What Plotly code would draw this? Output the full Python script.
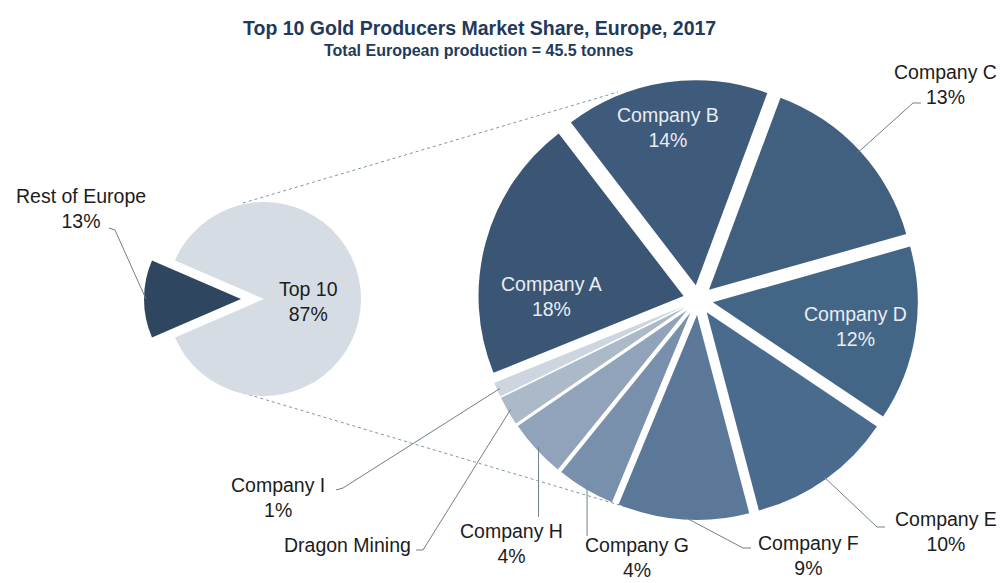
import math
import plotly.graph_objects as go

W, H = 1002, 583

# Split of total European production: the "Top 10" slice is broken out on the right
split_labels = ["Rest of Europe", "Top 10"]
split_shares = [13, 87]

# Breakdown of the top-10 producers (% of total European production)
companies = ["Company A", "Company B", "Company C", "Company D", "Company E",
             "Company F", "Company G", "Company H", "Dragon Mining", "Company I"]
company_shares = [18, 14, 13, 12, 10, 9, 4, 4, 2, 1]
# Dragon Mining is drawn without a percentage in its label
show_pct = [True, True, True, True, True, True, True, True, False, True]

split_colors = ["#2f4661", "#d6dce4"]
company_colors = ["#3b5574", "#3e5b7b", "#41607f", "#446686", "#4a6b8e",
                  "#5b7898", "#7890ab", "#90a3ba", "#abb9c9", "#cdd5de"]

TEXT_DARK = "#1c1c1c"
TEXT_LIGHT = "#e8edf3"
TITLE_COLOR = "#1f3a5b"
LEADER_COLOR = "#6f8088"
CONNECTOR_COLOR = "#7c98a3"
FONT = "Arial, Liberation Sans, sans-serif"

# Pie geometry in pixels (centre, half of the domain box, pulls, start angle)
left_pie = dict(cx=264, cy=299, half=120,
                pull=[0.237, 0.0],
                rotation=270 - 180 * split_shares[0] / sum(split_shares))
right_pie = dict(cx=698, cy=300, half=220,
                 pull=[0.073] * len(company_shares),
                 rotation=248)


def px(x, y):
    return x / W, 1 - y / H


def domain(p):
    return dict(x=[(p["cx"] - p["half"]) / W, (p["cx"] + p["half"]) / W],
                y=[1 - (p["cy"] + p["half"]) / H, 1 - (p["cy"] - p["half"]) / H])


def slice_point(p, values, i, frac=1.0):
    """Pixel point along the mid-angle of slice i, frac of the radius out."""
    total = sum(values)
    cum = sum(values[:i])
    mid = p["rotation"] + 360 * (cum + values[i] / 2) / total
    r = p["half"] / (1 + max(p["pull"]))
    d = p["pull"][i] * r + frac * r
    a = math.radians(mid)
    return p["cx"] + d * math.sin(a), p["cy"] - d * math.cos(a)


fig = go.Figure()

fig.add_trace(go.Pie(
    labels=split_labels, values=split_shares, sort=False, direction="clockwise",
    rotation=left_pie["rotation"], pull=left_pie["pull"], domain=domain(left_pie),
    marker=dict(colors=split_colors, line=dict(width=0)),
    textinfo="none", hoverinfo="label+percent", showlegend=False,
))

fig.add_trace(go.Pie(
    labels=companies, values=company_shares, sort=False, direction="clockwise",
    rotation=right_pie["rotation"], pull=right_pie["pull"], domain=domain(right_pie),
    marker=dict(colors=company_colors, line=dict(width=0)),
    textinfo="none", hoverinfo="label+value", showlegend=False,
))


def label_text(name, value, pct=True):
    return f"{name}<br>{value}%" if pct else name


annotations = []
shapes = []

# Labels placed inside their slices
inside = [
    (split_labels[1], split_shares[1], 308, 301, TEXT_DARK),
    (companies[0], company_shares[0], 551, 296, TEXT_LIGHT),
    (companies[1], company_shares[1], 668, 127, TEXT_LIGHT),
    (companies[3], company_shares[3], 855, 326, TEXT_LIGHT),
]
for name, val, x, y, color in inside:
    ax_, ay_ = px(x, y)
    annotations.append(dict(x=ax_, y=ay_, xref="paper", yref="paper",
                            text=label_text(name, val), showarrow=False,
                            xanchor="center", yanchor="middle", align="center",
                            font=dict(family=FONT, size=19.5, color=color)))

# Outside labels: text centre and leader-line route from the slice edge
outside_right = {
    2: dict(text_at=(945, 84), route=[(913, 103), (921, 103)]),
    4: dict(text_at=(946, 531), route=[(877, 527), (885, 527)]),
    5: dict(text_at=(808, 555), route=[(743, 548), (751, 548)]),
    6: dict(text_at=(637, 557), route="down", bottom=536),
    7: dict(text_at=(512, 543), route="down", bottom=517),
    8: dict(text_at=(347, 545), route=[(423, 550), (416, 550)]),
    9: dict(text_at=(278, 497), route=[(343, 488), (336, 490)]),
}


def leader_path(points):
    parts = []
    for k, (x, y) in enumerate(points):
        fx, fy = px(x, y)
        parts.append(("M" if k == 0 else "L") + f"{fx:.5f},{fy:.5f}")
    return " ".join(parts)


for i, spec in outside_right.items():
    sx, sy = slice_point(right_pie, company_shares, i, 0.985)
    if spec["route"] == "down":
        pts = [(sx, sy), (sx, spec["bottom"])]
    else:
        pts = [(sx, sy)] + spec["route"]
    shapes.append(dict(type="path", path=leader_path(pts), xref="paper", yref="paper",
                       line=dict(color=LEADER_COLOR, width=1)))
    tx, ty = px(*spec["text_at"])
    annotations.append(dict(x=tx, y=ty, xref="paper", yref="paper",
                            text=label_text(companies[i], company_shares[i], show_pct[i]),
                            showarrow=False, xanchor="center", yanchor="middle",
                            align="center", borderpad=0,
                            font=dict(family=FONT, size=19.5, color=TEXT_DARK)))

# Rest of Europe label on the small pie
sx, sy = slice_point(left_pie, split_shares, 0, 0.98)
shapes.append(dict(type="path", path=leader_path([(sx, sy), (115, 230), (109, 228)]),
                   xref="paper", yref="paper", line=dict(color=LEADER_COLOR, width=1)))
tx, ty = px(81, 208)
annotations.append(dict(x=tx, y=ty, xref="paper", yref="paper",
                        text=label_text(split_labels[0], split_shares[0]),
                        showarrow=False, xanchor="center", yanchor="middle", align="center",
                        font=dict(family=FONT, size=19.5, color=TEXT_DARK)))

# Dotted connectors from the small pie to the breakdown pie
for (x0, y0), (x1, y1) in [((243, 203), (618, 92)), ((243, 393), (626, 507))]:
    a0 = px(x0, y0)
    a1 = px(x1, y1)
    shapes.append(dict(type="line", x0=a0[0], y0=a0[1], x1=a1[0], y1=a1[1],
                       xref="paper", yref="paper", layer="below",
                       line=dict(color=CONNECTOR_COLOR, width=1, dash="dot")))

# Title and subtitle
for text, y, size in [("Top 10 Gold Producers Market Share, Europe, 2017", 28, 19.5),
                      ("Total European production = 45.5 tonnes", 51, 16)]:
    tx, ty = px(479, y)
    annotations.append(dict(x=tx, y=ty, xref="paper", yref="paper", text=f"<b>{text}</b>",
                            showarrow=False, xanchor="center", yanchor="middle",
                            font=dict(family=FONT, size=size, color=TITLE_COLOR)))

fig.update_layout(
    width=W, height=H,
    margin=dict(l=0, r=0, t=0, b=0),
    paper_bgcolor="white", plot_bgcolor="white",
    annotations=annotations, shapes=shapes,
    showlegend=False,
)

fig.write_html("out.html")
